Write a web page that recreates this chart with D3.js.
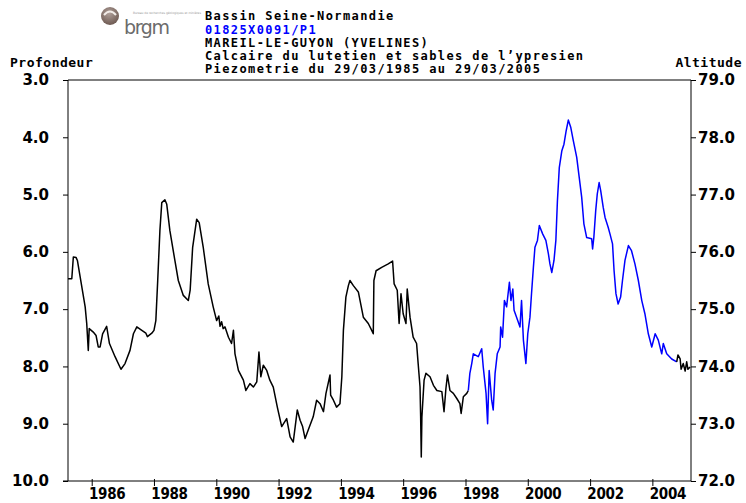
<!DOCTYPE html>
<html>
<head>
<meta charset="utf-8">
<script src="https://cdn.jsdelivr.net/npm/d3@7.9.0/dist/d3.min.js"></script>
<style>
  body { margin: 0; background: #fff; }
  svg { display: block; }
  .mono { font-family: "DejaVu Sans Mono", monospace; font-weight: bold; }
  .year { font-family: "DejaVu Sans Condensed", "DejaVu Sans", sans-serif; font-stretch: condensed; font-weight: bold; }
  .tick text { font-family: "DejaVu Sans", sans-serif; font-weight: bold; font-size: 15px; fill: #000; }
  .tick line { stroke: #000; }
</style>
</head>
<body>
<svg id="chart" width="746" height="503"></svg>
<script>
// header lines
const headerLines = [
  'Bassin Seine-Normandie',
  '01825X0091/P1',
  'MAREIL-LE-GUYON (YVELINES)',
  'Calcaire du lutetien et sables de l’ypresien',
  'Piezometrie du 29/03/1985 au 29/03/2005'
];
const headerColors = ['#000', '#0000ff', '#000', '#000', '#000'];

const depthTicks = [3, 4, 5, 6, 7, 8, 9, 10];
const altitudeTicks = [79, 78, 77, 76, 75, 74, 73, 72];
const yearTicks = [1986, 1988, 1990, 1992, 1994, 1996, 1998, 2000, 2002, 2004];

// [decimal year, depth (m)]
const seriesEarly = [
  [1985.24, 6.47], [1985.36, 6.47], [1985.41, 6.09], [1985.50, 6.10], [1985.54, 6.15],
  [1985.63, 6.44], [1985.79, 6.96], [1985.84, 7.25], [1985.89, 7.72], [1985.92, 7.34],
  [1986.05, 7.40], [1986.14, 7.46], [1986.21, 7.66], [1986.27, 7.66], [1986.35, 7.43],
  [1986.48, 7.30], [1986.57, 7.60], [1986.75, 7.83], [1986.94, 8.05], [1987.07, 7.95],
  [1987.23, 7.72], [1987.34, 7.43], [1987.45, 7.31], [1987.61, 7.37], [1987.74, 7.42],
  [1987.79, 7.48], [1987.93, 7.42], [1988.00, 7.37], [1988.06, 7.20], [1988.12, 6.50],
  [1988.19, 5.63], [1988.25, 5.14], [1988.35, 5.09], [1988.41, 5.17], [1988.51, 5.63],
  [1988.67, 6.15], [1988.78, 6.50], [1988.94, 6.76], [1989.10, 6.85], [1989.16, 6.67],
  [1989.24, 5.92], [1989.37, 5.43], [1989.45, 5.49], [1989.58, 5.92], [1989.74, 6.56],
  [1989.90, 6.96], [1990.01, 7.20], [1990.08, 7.12], [1990.12, 7.30], [1990.17, 7.22],
  [1990.22, 7.34], [1990.28, 7.31], [1990.39, 7.49], [1990.49, 7.60], [1990.55, 7.37],
  [1990.60, 7.78], [1990.71, 8.07], [1990.87, 8.24], [1990.95, 8.42], [1991.08, 8.30],
  [1991.19, 8.36], [1991.30, 8.27], [1991.37, 7.75], [1991.43, 8.18], [1991.51, 7.98],
  [1991.62, 8.07], [1991.72, 8.24], [1991.83, 8.36], [1991.96, 8.71], [1992.10, 9.05],
  [1992.26, 8.91], [1992.37, 9.23], [1992.47, 9.32], [1992.60, 8.76], [1992.69, 8.94],
  [1992.77, 9.05], [1992.85, 9.26], [1992.95, 9.11], [1993.11, 8.88], [1993.22, 8.59],
  [1993.33, 8.65], [1993.44, 8.79], [1993.52, 8.47], [1993.65, 8.15], [1993.67, 8.50],
  [1993.76, 8.59], [1993.86, 8.71], [1993.97, 8.65], [1994.03, 8.18], [1994.08, 7.37],
  [1994.16, 6.79], [1994.24, 6.59], [1994.29, 6.50], [1994.40, 6.59], [1994.56, 6.70],
  [1994.72, 7.14], [1994.88, 7.25], [1994.99, 7.37], [1995.04, 7.43], [1995.06, 6.50],
  [1995.13, 6.33], [1995.31, 6.27], [1995.52, 6.21], [1995.66, 6.16], [1995.71, 6.56],
  [1995.81, 6.67], [1995.87, 7.25], [1995.93, 6.73], [1996.00, 7.08], [1996.09, 7.25],
  [1996.13, 6.65], [1996.22, 7.14], [1996.32, 7.49], [1996.43, 7.60], [1996.48, 7.95],
  [1996.54, 8.36], [1996.56, 8.88], [1996.58, 9.58], [1996.60, 8.88], [1996.67, 8.24],
  [1996.73, 8.12], [1996.86, 8.18], [1996.97, 8.33], [1997.08, 8.42], [1997.24, 8.44],
  [1997.31, 8.79], [1997.37, 8.39], [1997.42, 8.15], [1997.50, 8.42], [1997.61, 8.47],
  [1997.72, 8.56], [1997.82, 8.65], [1997.86, 8.82], [1997.93, 8.53], [1998.04, 8.47],
  [1998.09, 8.42]
];

const seriesBlue = [
  [1998.09, 8.42], [1998.14, 8.12], [1998.20, 7.95], [1998.25, 7.78], [1998.41, 7.83],
  [1998.52, 7.69], [1998.57, 8.01], [1998.66, 8.47], [1998.71, 9.00], [1998.76, 8.07],
  [1998.84, 8.59], [1998.89, 8.76], [1998.95, 8.12], [1999.02, 7.78], [1999.11, 7.66],
  [1999.13, 7.31], [1999.19, 7.49], [1999.25, 6.85], [1999.32, 6.96], [1999.41, 6.53],
  [1999.46, 6.85], [1999.52, 6.65], [1999.56, 7.02], [1999.64, 7.14], [1999.75, 7.31],
  [1999.80, 6.85], [1999.86, 7.54], [1999.94, 7.95], [2000.00, 7.43], [2000.07, 7.14],
  [2000.12, 6.73], [2000.18, 6.27], [2000.23, 5.92], [2000.31, 5.80], [2000.37, 5.54],
  [2000.48, 5.69], [2000.58, 5.80], [2000.66, 6.03], [2000.71, 6.21], [2000.77, 6.36],
  [2000.84, 6.15], [2000.90, 5.80], [2000.95, 5.11], [2001.01, 4.53], [2001.09, 4.24],
  [2001.16, 4.12], [2001.23, 3.89], [2001.30, 3.70], [2001.38, 3.83], [2001.46, 4.06],
  [2001.57, 4.35], [2001.65, 4.70], [2001.73, 5.05], [2001.80, 5.51], [2001.89, 5.75],
  [2002.05, 5.77], [2002.08, 5.95], [2002.12, 5.75], [2002.18, 5.28], [2002.23, 4.99],
  [2002.29, 4.79], [2002.34, 4.93], [2002.42, 5.22], [2002.48, 5.40], [2002.58, 5.57],
  [2002.64, 5.69], [2002.72, 5.86], [2002.77, 6.33], [2002.83, 6.73], [2002.90, 6.91],
  [2002.98, 6.79], [2003.04, 6.50], [2003.12, 6.15], [2003.23, 5.89], [2003.33, 5.98],
  [2003.44, 6.21], [2003.55, 6.50], [2003.66, 6.85], [2003.76, 7.08], [2003.87, 7.43],
  [2003.98, 7.66], [2004.09, 7.43], [2004.19, 7.54], [2004.30, 7.78], [2004.35, 7.60],
  [2004.46, 7.78], [2004.62, 7.87], [2004.78, 7.92]
];

const seriesLate = [
  [2004.78, 7.92], [2004.82, 7.80], [2004.89, 7.87], [2004.92, 8.05], [2004.99, 7.95],
  [2005.05, 8.08], [2005.10, 7.92], [2005.14, 8.05], [2005.21, 8.01]
];

// ground level : depth 3.0 <-> altitude 79.0
const groundLevel = 82;

function decToDate(y) {
  const yr = Math.floor(y);
  const a = new Date(yr, 0, 1), b = new Date(yr + 1, 0, 1);
  return new Date(+a + (y - yr) * (b - a));
}

const svg = d3.select('#chart');
const plotLeft = 68, plotRight = 691, plotTop = 80, plotBottom = 481;

const x = d3.scaleTime()
  .domain([new Date(1985, 2, 29), new Date(2005, 2, 29)])
  .range([plotLeft, plotRight]);
const yDepth = d3.scaleLinear().domain([3, 10]).range([plotTop, plotBottom]);
const yAlt = d3.scaleLinear()
  .domain([groundLevel - 3, groundLevel - 10])
  .range([plotTop, plotBottom]);

// logo
const logo = svg.append('g');
const grad = svg.append('defs').append('radialGradient')
  .attr('id', 'lg').attr('cx', '45%').attr('cy', '35%').attr('r', '65%');
grad.append('stop').attr('offset', '0%').attr('stop-color', '#b0a09a');
grad.append('stop').attr('offset', '100%').attr('stop-color', '#6e5a52');
logo.append('circle').attr('cx', 110).attr('cy', 16).attr('r', 9).attr('fill', 'url(#lg)');
logo.append('path').attr('d', 'M104,15 q6,-7 12,0').attr('fill', 'none')
  .attr('stroke', '#f2ece8').attr('stroke-width', 2);
logo.append('text').attr('x', 124).attr('y', 34)
  .attr('font-family', 'DejaVu Sans, sans-serif').attr('font-size', 19)
  .attr('fill', '#6b6b6b').attr('textLength', 46).text('brgm');
logo.append('text').attr('x', 133).attr('y', 14)
  .attr('font-family', 'DejaVu Sans, sans-serif').attr('font-size', 3)
  .attr('fill', '#999').attr('textLength', 68)
  .text('Bureau de recherches géologiques et minières');

// header
svg.append('g').selectAll('text')
  .data(headerLines)
  .join('text')
  .attr('class', 'mono')
  .attr('x', 205)
  .attr('y', (d, i) => [20, 34, 47, 60, 73][i])
  .attr('font-size', 12)
  .attr('letter-spacing', 1.4)
  .attr('fill', (d, i) => headerColors[i])
  .text((d) => d);

// axis titles
svg.append('text').attr('class', 'mono').attr('x', 10).attr('y', 67)
  .attr('font-size', 13).attr('letter-spacing', 0.5).text('Profondeur');
svg.append('text').attr('class', 'mono').attr('x', 742).attr('y', 67)
  .attr('text-anchor', 'end').attr('font-size', 13).attr('letter-spacing', 0.5)
  .text('Altitude');

// axes
const fmt = d3.format('.1f');
const gl = svg.append('g').attr('transform', `translate(${plotLeft},0)`)
  .call(d3.axisLeft(yDepth).tickValues(depthTicks).tickSize(5).tickPadding(14).tickFormat(fmt));
const gr = svg.append('g').attr('transform', `translate(${plotRight},0)`)
  .call(d3.axisRight(yAlt).tickValues(altitudeTicks).tickSize(5).tickPadding(2).tickFormat(fmt));
const gb = svg.append('g').attr('transform', `translate(0,${plotBottom})`)
  .call(d3.axisBottom(x).tickValues(yearTicks.map((y) => new Date(y, 0, 1)))
    .tickSize(5).tickFormat(''));
[gl, gr, gb].forEach((g) => g.select('.domain').remove());
gb.selectAll('.tick line').attr('y1', -2);

// year labels centred on mid-year
svg.append('g').selectAll('text')
  .data(yearTicks)
  .join('text')
  .attr('class', 'year')
  .attr('x', (d) => x(new Date(d, 6, 1)))
  .attr('y', 499)
  .attr('text-anchor', 'middle')
  .attr('font-size', 15)
  .attr('letter-spacing', -0.3)
  .text((d) => d);

// frame
const frame = svg.append('g').attr('stroke', '#000').attr('fill', 'none');
frame.append('line').attr('x1', plotLeft).attr('x2', plotLeft).attr('y1', plotTop).attr('y2', plotBottom);
frame.append('line').attr('x1', plotRight).attr('x2', plotRight).attr('y1', plotTop).attr('y2', plotBottom);
frame.append('line').attr('x1', plotLeft).attr('x2', plotRight).attr('y1', plotTop).attr('y2', plotTop);
frame.append('line').attr('x1', plotLeft - 5).attr('x2', plotRight).attr('y1', plotBottom).attr('y2', plotBottom);

// series
const line = d3.line()
  .x((d) => x(decToDate(d[0])))
  .y((d) => yDepth(d[1]));

[[seriesEarly, '#000'], [seriesBlue, '#0000ff'], [seriesLate, '#000']].forEach(([data, color]) => {
  svg.append('path')
    .datum(data)
    .attr('d', line)
    .attr('fill', 'none')
    .attr('stroke', color)
    .attr('stroke-width', 1.5)
    .attr('stroke-linejoin', 'round');
});
</script>
</body>
</html>
